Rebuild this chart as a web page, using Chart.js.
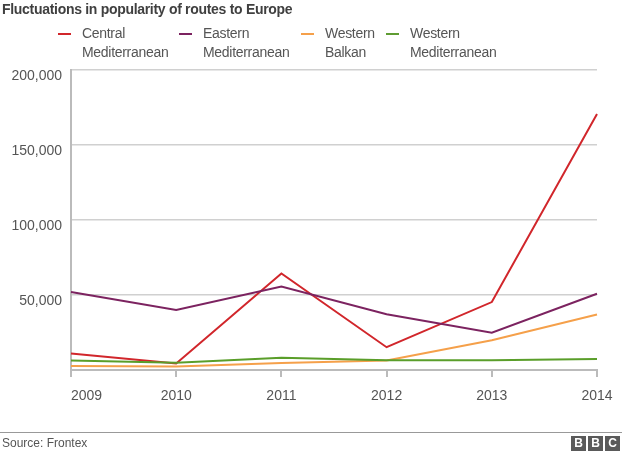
<!DOCTYPE html>
<html lang="en">
<head>
  <meta charset="UTF-8">
  <title>Fluctuations in popularity of routes to Europe</title>
  <script src="https://cdn.jsdelivr.net/npm/chart.js"></script>
  <style>
    body { margin: 0; background: #fff; font-family: "Liberation Sans", Arial, sans-serif; }
    #wrap { position: relative; width: 624px; height: 457px; overflow: hidden; }
    #routesChart { position: absolute; left: 0; top: 0; }
    .title { position: absolute; left: 2px; top: 1px; font-size: 14px; font-weight: bold; color: #404040; letter-spacing: -0.3px; }
    .leg { position: absolute; top: 24px; font-size: 14px; line-height: 19px; color: #555; letter-spacing: -0.3px; }
    .leg i { position: absolute; left: -24px; top: 9px; width: 13px; height: 2px; }
    .foot { position: absolute; left: 0; top: 432px; width: 622px; border-top: 1px solid #999; }
    .source { position: absolute; left: 2px; top: 436px; font-size: 12px; color: #555; }
    .bbc { position: absolute; left: 571px; top: 436px; }
    .bbc span { float: left; width: 15px; height: 15px; margin-right: 2px; background: #5a5a5a; color: #fff; font: bold 12px/15px "Liberation Sans", Arial, sans-serif; text-align: center; }
  </style>
</head>
<body>
<div id="wrap">
  <canvas id="routesChart" width="624" height="457"></canvas>
  <div class="title">Fluctuations in popularity of routes to Europe</div>
  <div class="leg" style="left:82px"><i style="background:#d1262b"></i>Central<br>Mediterranean</div>
  <div class="leg" style="left:203px"><i style="background:#7c2360"></i>Eastern<br>Mediterranean</div>
  <div class="leg" style="left:325px"><i style="background:#f5a04a"></i>Western<br>Balkan</div>
  <div class="leg" style="left:410px"><i style="background:#5f9c32"></i>Western<br>Mediterranean</div>
  <div class="foot"></div>
  <div class="source">Source: Frontex</div>
  <div class="bbc"><span>B</span><span>B</span><span>C</span></div>
</div>

<script>
  var years = ['2009', '2010', '2011', '2012', '2013', '2014'];
  var centralMed = [11000, 4400, 64300, 15200, 45300, 170700];
  var easternMed = [52000, 40000, 55700, 37200, 24800, 50800];
  var westernBalkan = [2700, 2400, 4600, 6400, 19800, 37000];
  var westernMed = [6300, 4800, 8200, 6500, 6500, 7300];
  var yTicks = [0, 50000, 100000, 150000, 200000];

  function line(data, colour) {
    return {
      data: data,
      borderColor: colour,
      borderWidth: 2,
      pointRadius: 0,
      tension: 0,
      fill: false
    };
  }

  var ctx = document.getElementById('routesChart').getContext('2d');
  var routesChart = new Chart(ctx, {
    type: 'line',
    data: {
      labels: years,
      datasets: [
        line(westernMed, '#5a9e2a'),
        line(westernBalkan, '#f5a04a'),
        line(easternMed, '#7c2360'),
        line(centralMed, '#d1262b')
      ]
    },
    options: {
      responsive: false,
      animation: false,
      layout: { padding: { left: 0, top: 70, right: 27, bottom: 47 } },
      plugins: { legend: { display: false }, tooltip: { enabled: false } },
      scales: {
        x: {
          offset: false,
          grid: { drawOnChartArea: false, drawTicks: true, tickLength: 7, color: '#bbb', lineWidth: 2 },
          border: { display: true, color: '#bbb', width: 2 },
          ticks: {
            color: '#555',
            font: { size: 14, family: 'Liberation Sans' },
            padding: 11,
            maxRotation: 0,
            // first year sits to the right of its tick, like the original
            callback: function(v, i) { return i === 0 ? '        ' + years[i] : years[i]; }
          },
          afterFit: function(s) { s.height = 40; }
        },
        y: {
          min: 0,
          max: 200000,
          afterBuildTicks: function(s) { s.ticks = yTicks.map(function(v) { return { value: v }; }); },
          grid: {
            drawTicks: false,
            lineWidth: 1.5,
            color: function(c) { return c.tick && c.tick.value === 0 ? 'rgba(0,0,0,0)' : '#d0d0d0'; }
          },
          border: { display: true, color: '#bbb', width: 2 },
          ticks: {
            color: '#555',
            font: { size: 14, family: 'Liberation Sans' },
            padding: 9,
            labelOffset: 6,
            callback: function(v) { return v === 0 ? '' : v.toLocaleString('en-US'); }
          },
          afterFit: function(s) { s.width = 71; }
        }
      }
    }
  });
</script>
</body>
</html>
